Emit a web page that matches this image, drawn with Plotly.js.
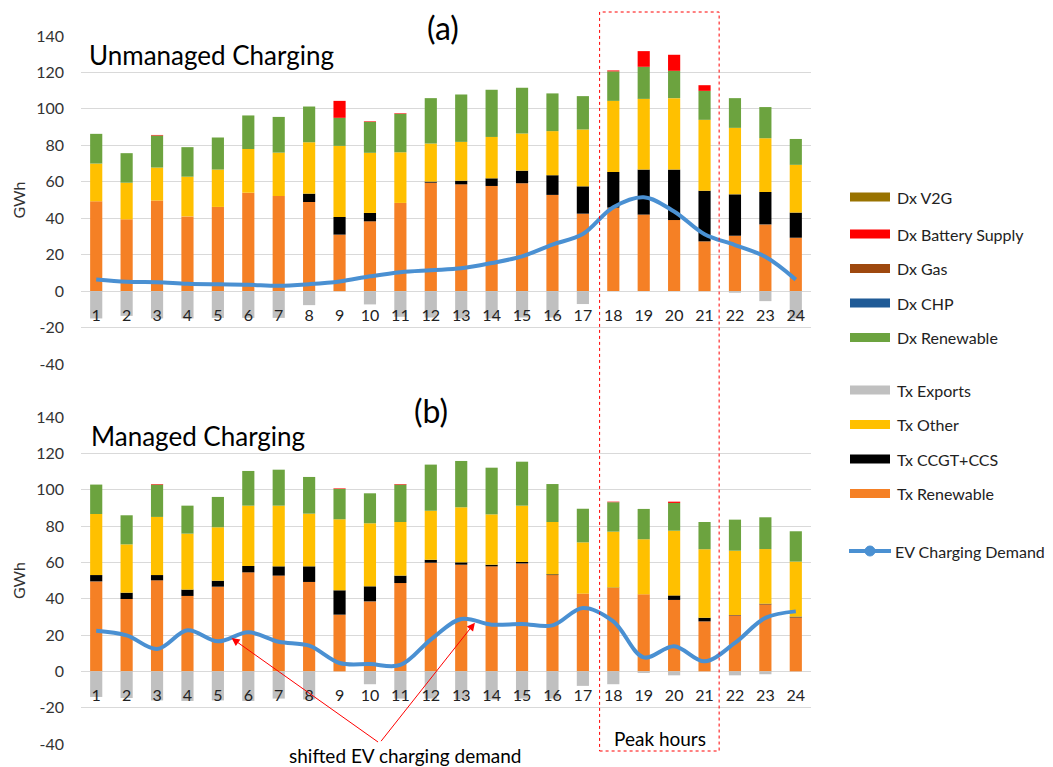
<!DOCTYPE html>
<html>
<head>
<meta charset="utf-8">
<script src="https://cdn.plot.ly/plotly-3.0.1.min.js"></script>
<style>html,body{margin:0;padding:0;background:#fff;}#chart{width:1053px;height:767px;}</style>
</head>
<body>
<div id="chart"></div>
<script>
// ---------- data ----------
const hours = [1,2,3,4,5,6,7,8,9,10,11,12,13,14,15,16,17,18,19,20,21,22,23,24];
const yTicks = [-40,-20,0,20,40,60,80,100,120,140];
const yTickLabels = ["-40","-20","0","20","40","60","80","100","120","140"];

// (a) Unmanaged charging
const txRenewableU = [49.3,39.4,49.7,41.0,46.2,54.0,52.2,48.9,31.0,38.3,48.4,59.5,58.6,57.7,59.2,52.8,42.5,45.8,42.0,39.0,27.3,30.4,36.6,29.3];
const txCcgtU      = [0,0,0,0,0,0,0,4.6,9.7,4.6,0,0.6,2.0,4.2,6.9,10.8,15.0,19.6,24.7,27.7,27.8,22.7,17.8,13.8];
const txOtherU     = [20.7,20.1,18.1,21.8,20.5,24.0,23.8,28.2,39.0,33.0,27.8,20.9,21.3,22.7,20.4,24.2,31.2,39.0,38.8,39.2,38.9,36.5,29.5,26.2];
const dxRenewableU = [16.3,16.2,17.6,16.2,17.6,18.4,19.6,19.6,15.4,17.0,21.1,24.9,26.0,25.9,25.1,20.7,18.3,16.2,17.6,15.0,15.9,16.3,17.1,14.2];
const dxChpU       = [0,0,0,0,0,0,0,0,0,0,0,0,0,0,0,0,0,0,0,0,0,0,0,0];
const dxGasU       = [0,0,0,0,0,0,0,0,0,0,0,0,0,0,0,0,0,0,0,0,0,0,0,0];
const dxBatteryU   = [0,0,0.3,0,0,0,0,0,9.3,0.3,0.3,0,0,0,0,0,0,0.5,8.6,8.8,3.1,0,0,0];
const dxV2gU       = [0,0,0,0,0,0,0,0,0,0,0,0,0,0,0,0,0,0,0,0,0,0,0,0];
const txExportsU   = [-15.0,-13.6,-15.0,-15.0,-14.7,-14.7,-14.7,-7.7,0,-7.3,-14.1,-14.5,-15.0,-15.0,-14.5,-14.5,-7.1,0,0,0,0,-0.9,-5.5,-15.0];
const evDemandU    = [6.4,5.1,4.9,4.0,3.7,3.5,2.9,3.8,5.3,8.1,10.4,11.5,12.5,15.4,19.1,25.5,31.3,46.0,51.5,43.7,31.2,25.3,18.8,6.3];

// (b) Managed charging
const txRenewableM = [49.5,39.8,50.1,41.5,46.6,54.5,52.7,49.2,31.2,38.5,48.6,59.8,58.7,57.8,59.4,53.0,42.8,45.9,42.4,39.3,27.5,30.8,36.9,29.7];
const txCcgtM      = [3.5,3.5,2.9,3.5,3.3,3.5,5.1,8.6,13.4,8.3,4.1,1.6,1.3,0.9,0.8,0.4,0,0.2,0,2.5,2.0,0.2,0.3,0.4];
const txOtherM     = [33.6,26.6,32.0,30.8,29.4,33.2,33.4,29.0,39.1,34.7,29.5,27.0,30.3,27.7,31.0,28.8,28.2,30.8,30.3,35.6,37.7,35.4,30.1,30.3];
const dxRenewableM = [16.2,16.0,17.8,15.4,16.7,19.1,19.8,20.2,16.7,16.5,20.6,25.4,25.5,25.7,24.2,20.9,18.5,16.1,16.7,15.3,15.0,17.1,17.5,16.7];
const dxChpM       = [0,0,0,0,0,0,0,0,0,0,0,0,0,0,0,0,0,0,0,0,0,0,0,0];
const dxGasM       = [0,0,0,0,0,0,0,0,0,0,0,0,0,0,0,0,0,0.2,0,0,0,0,0,0];
const dxBatteryM   = [0,0,0.3,0,0,0,0,0,0.3,0,0.3,0,0,0,0,0,0,0.2,0,0.7,0,0,0,0];
const dxV2gM       = [0,0,0,0,0,0,0,0,0,0,0,0,0,0,0,0,0,0,0,0,0,0,0,0];
const txExportsM   = [-14.1,-14.7,-16.0,-16.3,-16.0,-16.3,-15.0,-15.5,0,-7.1,-15.0,-15.0,-15.5,-15.5,-15.0,-15.0,-8.0,-7.1,-0.9,-2.2,0,-2.2,-1.6,0];
const evDemandM    = [22.4,19.8,12.3,22.6,16.5,21.5,16.3,14.1,4.6,4.0,3.5,17.5,28.8,25.7,26.1,25.3,34.9,27.5,7.7,13.8,5.5,15.6,29.4,33.0];

// series names / colours (stack order bottom -> top, then exports)
const seriesNames  = ["Tx Renewable","Tx CCGT+CCS","Tx Other","Dx Renewable","Dx CHP","Dx Gas","Dx Battery Supply","Dx V2G","Tx Exports"];
const seriesColors = ["#F58025","#000000","#FFC000","#6CA33F","#1F5A96","#9E480E","#FF0000","#997300","#C0C0C0"];
const seriesU = [txRenewableU,txCcgtU,txOtherU,dxRenewableU,dxChpU,dxGasU,dxBatteryU,dxV2gU,txExportsU];
const seriesM = [txRenewableM,txCcgtM,txOtherM,dxRenewableM,dxChpM,dxGasM,dxBatteryM,dxV2gM,txExportsM];
const evName = "EV Charging Demand";
const evColor = "#4A90D2";

// legend (top -> bottom as in the reference)
const legendNames  = ["Dx V2G","Dx Battery Supply","Dx Gas","Dx CHP","Dx Renewable","Tx Exports","Tx Other","Tx CCGT+CCS","Tx Renewable"];

// ---------- layout helpers ----------
const W = 1053, H = 767;
const M = {l:81, r:242, t:36, b:23};
const plotH = H - M.t - M.b;
const pyToPaper = p => (H - M.b - p) / plotH;
const pxToPaper = p => (p - M.l) / (W - M.l - M.r);
const topDom = [pyToPaper(364), 1];
const botDom = [0, pyToPaper(417)];
const yRange = [-40, 140];
const zeroPos = d => d[0] + (0 - yRange[0]) / (yRange[1] - yRange[0]) * (d[1] - d[0]);

const FONT = "Lato, 'Open Sans', sans-serif";
const traces = [];
function addPanel(series, ev, xa, ya) {
  series.forEach((vals, i) => {
    traces.push({
      type: 'bar', x: hours, y: vals, name: seriesNames[i],
      marker: {color: seriesColors[i], line: {width: 0}},
      xaxis: xa, yaxis: ya, showlegend: false, hoverinfo: 'x+y+name'
    });
  });
  traces.push({
    type: 'scatter', mode: 'lines', x: hours, y: ev, name: evName,
    line: {color: evColor, width: 4, shape: 'spline', smoothing: 1},
    xaxis: xa, yaxis: ya, showlegend: false
  });
}
addPanel(seriesU, evDemandU, 'x', 'y');
addPanel(seriesM, evDemandM, 'x2', 'y2');

const xCommon = {
  range: [0.5, 24.5], tickvals: hours, ticktext: hours.map(String),
  showgrid: false, zeroline: false, showline: false, ticks: '',
  tickfont: {family: FONT, size: 16, color: '#222'}, ticklabelstandoff: 13,
  anchor: 'free', fixedrange: true
};
const yCommon = {
  range: yRange, tickvals: yTicks, ticktext: yTickLabels, showgrid: true, gridcolor: '#D9D9D9', gridwidth: 1,
  zeroline: false, showline: false, ticks: '',
  tickfont: {family: FONT, size: 16, color: '#333'}, ticklabelstandoff: 16,
  title: {text: 'GWh', font: {family: FONT, size: 16, color: '#333'}, standoff: 6}
};

const shapes = [];
const annotations = [];

// peak hours dotted box
shapes.push({type: 'rect', xref: 'x', yref: 'paper', x0: 17.55, x1: 21.48,
  y0: pyToPaper(751), y1: pyToPaper(12), line: {color: '#FF0000', width: 1, dash: 'dot'}, layer: 'above'});

// legend swatches + labels
const legY = [197, 234, 268.5, 303, 337.5, 390, 424.5, 459, 493.5];
legendNames.forEach((nm, k) => {
  const idx = seriesNames.indexOf(nm);
  const yc = legY[k];
  shapes.push({type: 'rect', xref: 'paper', yref: 'paper',
    x0: pxToPaper(850), x1: pxToPaper(890), y0: pyToPaper(yc + 4.5), y1: pyToPaper(yc - 4.5),
    fillcolor: seriesColors[idx], line: {width: 0}});
  annotations.push({xref: 'paper', yref: 'paper', x: pxToPaper(895), y: pyToPaper(yc),
    xanchor: 'left', yanchor: 'middle', showarrow: false, text: nm,
    font: {family: FONT, size: 16, color: '#222'}});
});
const evLegY = 551;
shapes.push({type: 'line', xref: 'paper', yref: 'paper', x0: pxToPaper(849), x1: pxToPaper(891),
  y0: pyToPaper(evLegY), y1: pyToPaper(evLegY), line: {color: evColor, width: 4}});
shapes.push({type: 'circle', xref: 'paper', yref: 'paper', x0: pxToPaper(865), x1: pxToPaper(875),
  y0: pyToPaper(evLegY + 5), y1: pyToPaper(evLegY - 5), fillcolor: evColor, line: {color: evColor, width: 1}});
annotations.push({xref: 'paper', yref: 'paper', x: pxToPaper(893), y: pyToPaper(evLegY),
  xanchor: 'left', yanchor: 'middle', showarrow: false, text: evName,
  font: {family: FONT, size: 16, color: '#222'}});

// titles and labels
annotations.push({xref: 'paper', yref: 'paper', x: pxToPaper(443), y: pyToPaper(27), showarrow: false,
  text: '(a)', font: {family: FONT, size: 32, color: '#000'}, xanchor: 'center', yanchor: 'middle'});
annotations.push({xref: 'paper', yref: 'paper', x: pxToPaper(431), y: pyToPaper(410), showarrow: false,
  text: '(b)', font: {family: FONT, size: 32, color: '#000'}, xanchor: 'center', yanchor: 'middle'});
annotations.push({xref: 'paper', yref: 'paper', x: pxToPaper(87), y: pyToPaper(55), showarrow: false,
  text: 'Unmanaged Charging', font: {family: FONT, size: 26, color: '#000'}, xanchor: 'left', yanchor: 'middle'});
annotations.push({xref: 'paper', yref: 'paper', x: pxToPaper(89), y: pyToPaper(436), showarrow: false,
  text: 'Managed Charging', font: {family: FONT, size: 26, color: '#000'}, xanchor: 'left', yanchor: 'middle'});
annotations.push({xref: 'paper', yref: 'paper', x: pxToPaper(660), y: pyToPaper(738), showarrow: false,
  text: 'Peak hours', font: {family: FONT, size: 19, color: '#000'}, xanchor: 'center', yanchor: 'middle'});
annotations.push({xref: 'paper', yref: 'paper', x: pxToPaper(405), y: pyToPaper(755), showarrow: false,
  text: 'shifted EV charging demand', font: {family: FONT, size: 19, color: '#000'}, xanchor: 'center', yanchor: 'middle'});
// arrows pointing at the shifted demand
annotations.push({xref: 'x2', yref: 'y2', x: 5.45, y: 18.3, ax: 148, ay: 105, text: '',
  showarrow: true, arrowhead: 2, arrowsize: 1.6, arrowwidth: 1, arrowcolor: '#FF0000'});
annotations.push({xref: 'x2', yref: 'y2', x: 13.45, y: 26.8, ax: -95, ay: 120, text: '',
  showarrow: true, arrowhead: 2, arrowsize: 1.6, arrowwidth: 1, arrowcolor: '#FF0000'});

const layout = {
  width: W, height: H, margin: M, paper_bgcolor: '#fff', plot_bgcolor: 'rgba(0,0,0,0)',
  barmode: 'relative', bargap: 0.6, showlegend: false,
  font: {family: FONT},
  xaxis:  Object.assign({}, xCommon, {domain: [0,1], position: zeroPos(topDom)}),
  xaxis2: Object.assign({}, xCommon, {domain: [0,1], position: zeroPos(botDom)}),
  yaxis:  Object.assign({}, yCommon, {domain: topDom, anchor: 'x'}),
  yaxis2: Object.assign({}, yCommon, {domain: botDom, anchor: 'x2'}),
  shapes: shapes, annotations: annotations
};
Plotly.newPlot('chart', traces, layout, {staticPlot: true, displayModeBar: false});
</script>
</body>
</html>
